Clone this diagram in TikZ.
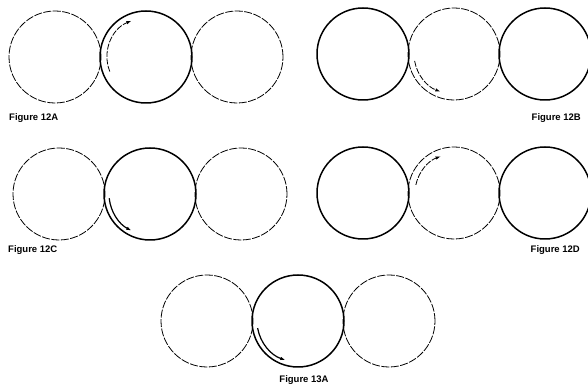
\documentclass[tikz,border=0pt]{standalone}
\usepackage{fontspec}
\setmainfont{Liberation Sans}
\usetikzlibrary{arrows.meta}
\begin{document}
\begin{tikzpicture}[x=1pt,y=1pt,
  ring/.style={circle,minimum size=92pt,inner sep=0pt},
  thinring/.style={ring,draw,line width=0.8pt,dash pattern=on 8pt off 1.5pt},
  thickring/.style={ring,draw,line width=1.5pt},
  thinarrow/.style={line width=0.8pt,dash pattern=on 6pt off 1.5pt,-{Latex[length=5pt,width=3.5pt]}},
  thickarrow/.style={line width=1.2pt,-{Latex[length=5pt,width=3.5pt]}},
  figcap/.style={font=\fontsize{9.5}{10}\selectfont\bfseries,inner sep=0pt}]
\useasboundingbox (0,0) rectangle (588,390);
% Figure 12A
\node[thinring]  (a1) at (55,333) {};
\node[thickring] (a2) at (146,333) {};
\node[thinring]  (a3) at (237,333) {};
\draw[thinarrow] ([shift={(202:39pt)}]a2.center) arc[start angle=202,end angle=112,radius=39pt];
\node[figcap,anchor=west] (la) at (9,272) {Figure 12A};
% Figure 12B
\node[thickring] (b1) at (363,336) {};
\node[thinring]  (b2) at (454,336) {};
\node[thickring] (b3) at (545,336) {};
\draw[thinarrow] ([shift={(190:40pt)}]b2.center) arc[start angle=190,end angle=250,radius=40pt];
\node[figcap,anchor=east] (lb) at (581,272) {Figure 12B};
% Figure 12C
\node[thinring]  (c1) at (59,196) {};
\node[thickring] (c2) at (150,196) {};
\node[thinring]  (c3) at (241,196) {};
\draw[thickarrow] ([shift={(186:41pt)}]c2.center) arc[start angle=186,end angle=243,radius=41pt];
\node[figcap,anchor=west] (lc) at (8,140) {Figure 12C};
% Figure 12D
\node[thickring] (d1) at (363,197) {};
\node[thinring]  (d2) at (454,197) {};
\node[thickring] (d3) at (545,197) {};
\draw[thinarrow] ([shift={(168:39pt)}]d2.center) arc[start angle=168,end angle=110,radius=39pt];
\node[figcap,anchor=east] (ld) at (580,140) {Figure 12D};
% Figure 13A
\node[thinring]  (e1) at (207,69) {};
\node[thickring] (e2) at (298,69) {};
\node[thinring]  (e3) at (389,69) {};
\draw[thickarrow] ([shift={(190:41pt)}]e2.center) arc[start angle=190,end angle=252,radius=41pt];
\node[figcap] (le) at (304,10) {Figure 13A};
\end{tikzpicture}
\end{document}
